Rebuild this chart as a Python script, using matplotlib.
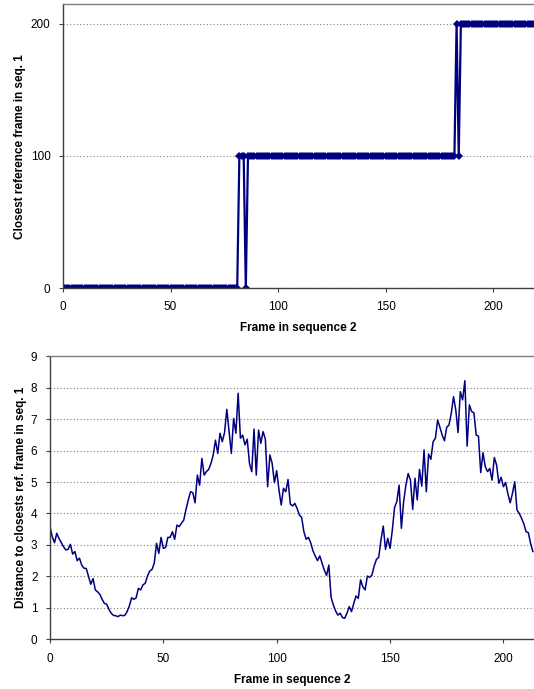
import matplotlib
matplotlib.use("Agg")
import matplotlib.pyplot as plt
import numpy as np

plt.rcParams['font.family'] = ['Liberation Sans', 'DejaVu Sans']

# top chart: closest reference frame, given as runs of constant value
run_values = [0, 100, 0, 100, 200, 100, 200]
run_lengths = [82, 3, 1, 97, 1, 1, 35]
ref_frame = np.repeat(run_values, run_lengths)
frames_top = np.arange(len(ref_frame))

# bottom chart: distance to closest reference frame, frames 0..213
distance = [
    3.58, 3.26, 3.07, 3.37, 3.20, 3.07, 2.94, 2.84, 2.86, 3.02,
    2.71, 2.79, 2.50, 2.58, 2.36, 2.26, 2.25, 2.00, 1.75, 1.93,
    1.57, 1.51, 1.43, 1.27, 1.14, 1.12, 0.95, 0.83, 0.76, 0.75,
    0.72, 0.77, 0.75, 0.76, 0.88, 1.06, 1.32, 1.27, 1.32, 1.62,
    1.57, 1.73, 1.78, 2.01, 2.17, 2.22, 2.42, 3.05, 2.73, 3.24,
    2.89, 2.92, 3.24, 3.24, 3.42, 3.18, 3.63, 3.58, 3.69, 3.79,
    4.13, 4.43, 4.69, 4.66, 4.34, 5.22, 4.90, 5.75, 5.22, 5.33,
    5.40, 5.59, 5.86, 6.33, 5.91, 6.55, 6.28, 6.57, 7.31, 6.60,
    5.91, 7.02, 6.55, 7.82, 6.39, 6.49, 6.18, 6.36, 5.59, 5.33,
    6.68, 5.22, 6.65, 6.23, 6.60, 6.36, 4.85, 5.86, 5.59, 4.98,
    5.36, 4.75, 4.27, 4.80, 4.69, 5.08, 4.30, 4.24, 4.32, 4.16,
    3.95, 3.88, 3.42, 3.18, 3.24, 3.07, 2.81, 2.65, 2.50, 2.65,
    2.42, 2.20, 2.03, 2.36, 1.33, 1.09, 0.90, 0.77, 0.83, 0.69,
    0.67, 0.83, 1.04, 0.88, 1.14, 1.38, 1.30, 1.89, 1.67, 1.57,
    2.01, 1.97, 2.04, 2.33, 2.54, 2.61, 3.16, 3.60, 2.86, 3.21,
    2.89, 3.47, 4.19, 4.38, 4.90, 3.53, 4.38, 4.90, 5.27, 5.06,
    4.13, 5.12, 4.43, 5.40, 4.87, 6.02, 4.69, 5.89, 5.72, 6.28,
    6.39, 6.97, 6.74, 6.49, 6.31, 6.74, 6.81, 7.18, 7.71, 7.29,
    6.57, 7.87, 7.61, 8.22, 6.14, 7.45, 7.24, 7.20, 6.49, 6.46,
    5.30, 5.93, 5.49, 5.33, 5.43, 5.06, 5.78, 5.54, 4.96, 5.15,
    4.85, 4.98, 4.62, 4.34, 4.64, 5.01, 4.11, 4.00, 3.85, 3.67,
    3.42, 3.39, 3.05, 2.79,
]
frames_bottom = np.arange(len(distance))

navy = '#000080'
axis_grey = '#808080'

fig = plt.figure(figsize=(5.34, 6.89), dpi=100)


def style_axes(ax):
    ax.spines['right'].set_visible(False)
    ax.spines['top'].set_color(axis_grey)
    ax.spines['left'].set_color('#404040')
    ax.spines['bottom'].set_color('#404040')
    for s in ax.spines.values():
        s.set_linewidth(1.0)
    ax.tick_params(axis='both', direction='out', length=3, width=0.8,
                   color='#404040', labelsize=8.5)
    ax.tick_params(axis='x', pad=6.5)
    ax.tick_params(axis='y', pad=6)
    ax.yaxis.grid(True, linestyle=(0, (1, 2)), color='#808080', linewidth=0.8)
    ax.set_axisbelow(True)


# top: closest reference frame
ax1 = fig.add_axes([0.118, 0.582, 0.882, 0.412])
ax1.plot(frames_top, ref_frame, color=navy, linewidth=1.6,
         marker='D', markersize=4.5, markeredgewidth=0, clip_on=True)
ax1.set_xlim(0, 219)
ax1.set_ylim(0, 215)
ax1.set_xticks([0, 50, 100, 150, 200])
ax1.set_yticks([0, 100, 200])
ax1.set_xlabel('Frame in sequence 2', fontsize=8.5, fontweight='bold', labelpad=6)
ax1.set_ylabel('Closest reference frame in seq. 1', fontsize=8.5, fontweight='bold', labelpad=3.5)
style_axes(ax1)

# bottom: distance curve
ax2 = fig.add_axes([0.0936, 0.0721, 0.9064, 0.411])
ax2.plot(frames_bottom, distance, color=navy, linewidth=1.1)
ax2.set_xlim(0, 213.5)
ax2.set_ylim(0, 9)
ax2.set_xticks([0, 50, 100, 150, 200])
ax2.set_yticks(range(10))
ax2.set_xlabel('Frame in sequence 2', fontsize=8.5, fontweight='bold', labelpad=7)
ax2.set_ylabel('Distance to closests ref. frame in seq. 1', fontsize=8.5, fontweight='bold', labelpad=3)
style_axes(ax2)

fig.savefig('out.png', dpi=100)
